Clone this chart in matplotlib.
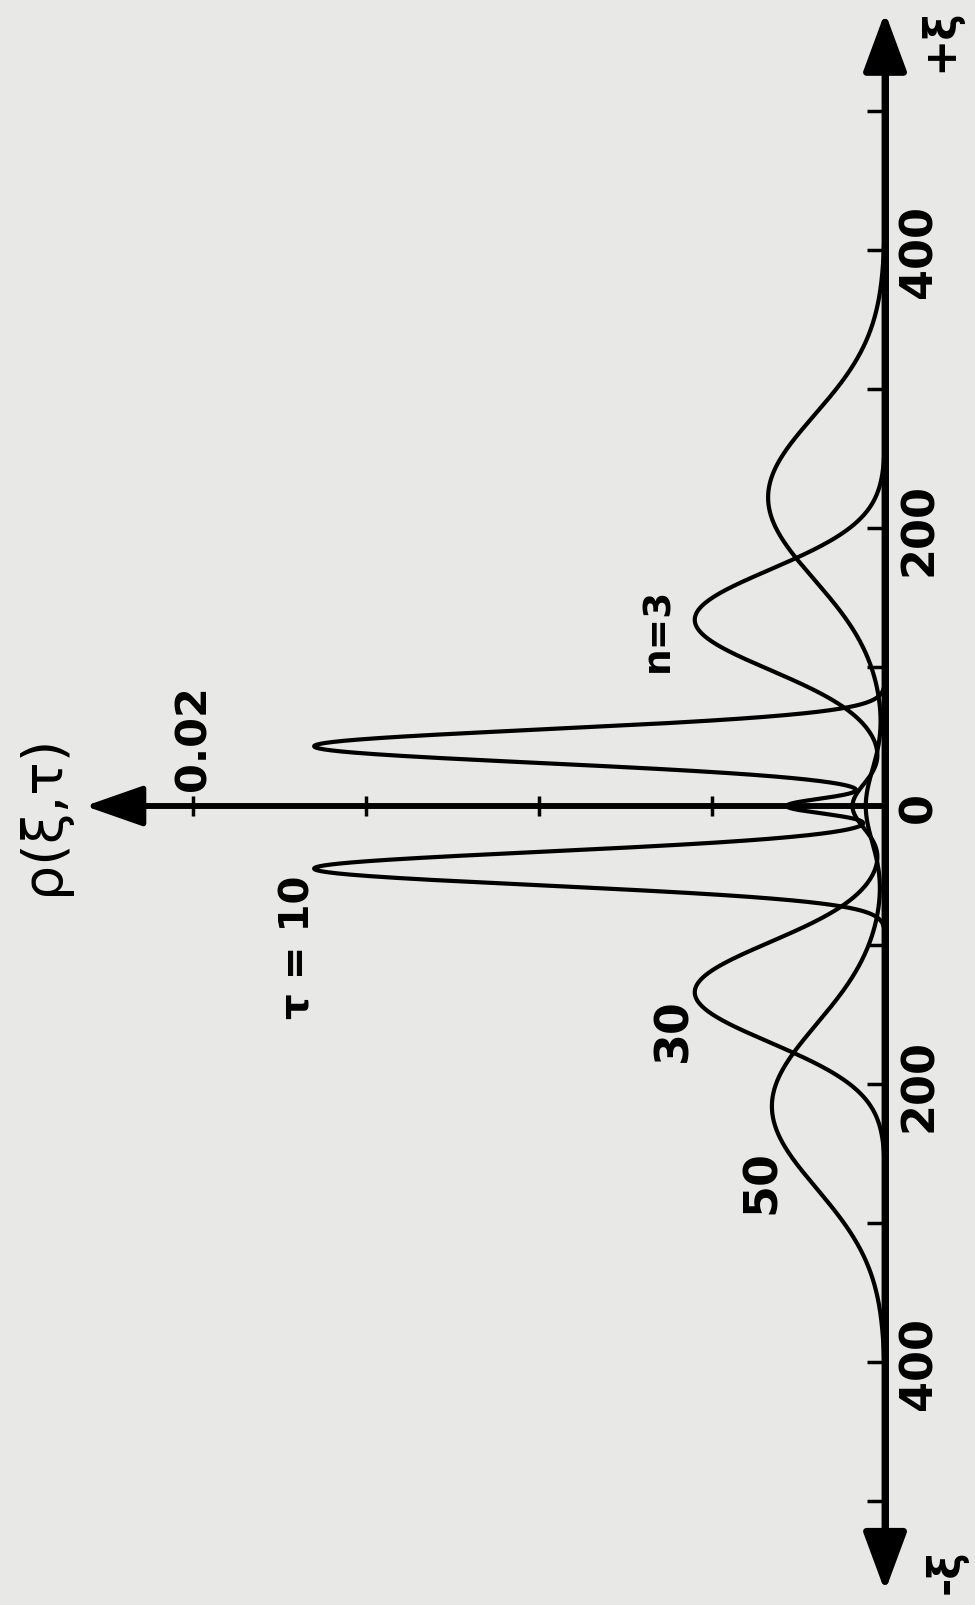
import numpy as np
import matplotlib.pyplot as plt

# Values (the plot is turned 90 degrees:
# xi runs up the page, rho grows to the left)
tau = [10, 30, 50]
peak_xi_pos = [43, 134, 222]          # centre of the +xi hump
peak_xi_neg = [-45, -134, -216]       # centre of the -xi hump
peak_rho_pos = [0.0165, 0.0055, 0.00338]
peak_rho_neg = [0.0165, 0.0055, 0.00327]
peak_width = [12, 36, 59]             # spread of each hump
center_rho = [0.0028, 0.00093, 0.00055]
center_width = [5.5, 16.5, 27.5]

xi_ticks = [-500, -400, -300, -200, -100, 0, 100, 200, 300, 400, 500]
xi_ticklabels = ['', '400', '', '200', '', '0', '', '200', '', '400', '']
rho_ticks = [0.005, 0.01, 0.015, 0.02]
rho_ticklabels = ['', '', '', '0.02']

bg = '#e8e8e6'
plt.rcParams['font.family'] = ['DejaVu Sans']
plt.rcParams['font.weight'] = 'bold'

fig = plt.figure(figsize=(9.75, 16.06), dpi=100, facecolor=bg)
ax = fig.add_axes([0, 0, 1, 1], facecolor=bg)
ax.set_xlim(0.02558, -0.0026)   # rho increases to the left
ax.set_ylim(-574.8, 580.6)

# curves
xi = np.linspace(-430, 430, 4000)
for i in range(len(tau)):
    rho = (peak_rho_pos[i] * np.exp(-(xi - peak_xi_pos[i]) ** 2 / (2 * peak_width[i] ** 2))
           + peak_rho_neg[i] * np.exp(-(xi - peak_xi_neg[i]) ** 2 / (2 * peak_width[i] ** 2))
           + center_rho[i] * np.exp(-xi ** 2 / (2 * center_width[i] ** 2)))
    ax.plot(rho, xi, color='black', lw=3.0, solid_capstyle='round')

# axes lines through the origin
for s in ['left', 'bottom']:
    ax.spines[s].set_visible(False)
ax.spines['right'].set_position(('data', 0))
ax.spines['right'].set_bounds(-540, 545)
ax.spines['right'].set_linewidth(5)
ax.spines['top'].set_position(('data', 0))
ax.spines['top'].set_bounds(0, 0.0222)
ax.spines['top'].set_linewidth(4)

ax.yaxis.set_ticks_position('right')
ax.set_yticks(xi_ticks)
ax.set_yticklabels(xi_ticklabels, rotation=90, va='center', fontsize=32, fontweight='bold')
ax.tick_params(axis='y', direction='in', length=13, width=2.5, pad=9)

ax.xaxis.set_ticks_position('top')
ax.set_xticks(rho_ticks)
ax.set_xticklabels(rho_ticklabels, rotation=90, ha='center', fontsize=31, fontweight='bold')
ax.tick_params(axis='x', direction='inout', length=15, width=2.5, pad=4)

# arrow heads
ax.annotate('', xy=(0, 571), xytext=(0, -565),
            arrowprops=dict(arrowstyle='<|-|>,head_length=1.0,head_width=0.37',
                            mutation_scale=36, lw=5, color='black', shrinkA=0, shrinkB=0))
ax.annotate('', xy=(0.02312, 0), xytext=(0, 0),
            arrowprops=dict(arrowstyle='-|>,head_length=1.0,head_width=0.35',
                            mutation_scale=36, lw=4, color='black', shrinkA=0, shrinkB=0))

# labels (placed in axes fraction, which here is the whole figure)
def put(px, py, s, size, weight='bold'):
    ax.text(px / 975, 1 - py / 1606, s, transform=ax.transAxes, rotation=90,
            ha='center', va='center', fontsize=size, fontweight=weight)

put(43, 815, 'ρ(ξ,τ)', 40, 'normal')
put(940, 40, '+ξ', 32)
put(946, 1572, '-ξ', 32)
put(658, 630, 'n=3', 27)
put(298, 947, 'τ = 10', 29)
put(674, 1030, '30', 33)
put(762, 1182, '50', 33)

plt.savefig('out.png', dpi=100, facecolor=bg)
